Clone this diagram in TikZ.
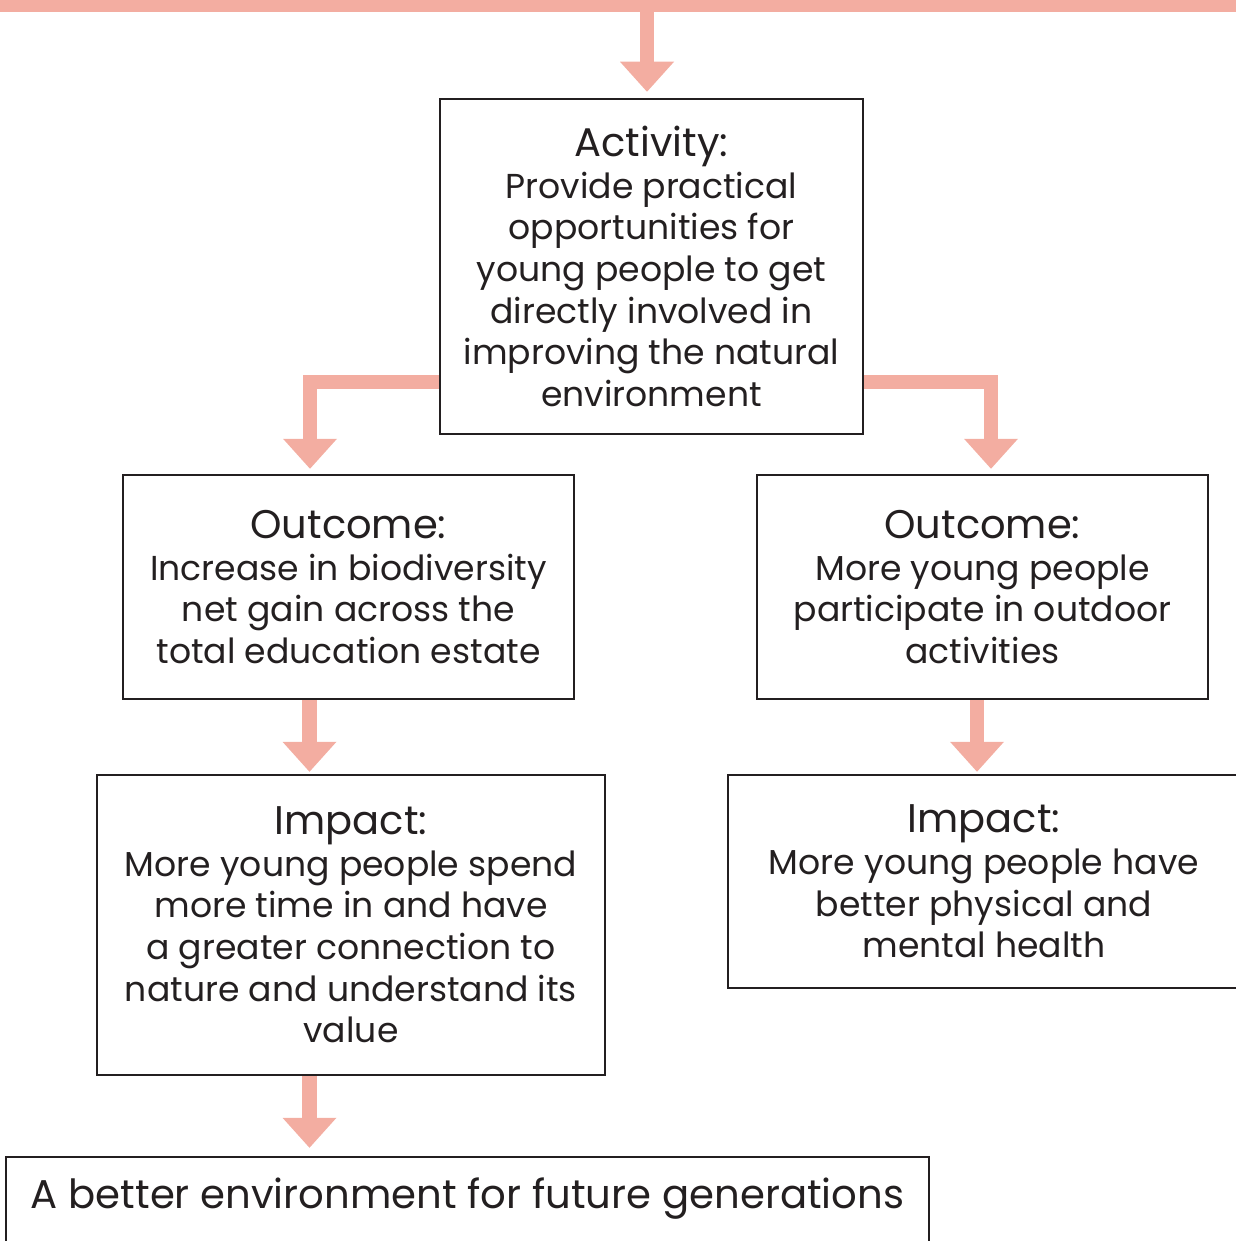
\documentclass[tikz,border=0pt]{standalone}
\usepackage{fontspec}
\setmainfont{Poppins}
\usetikzlibrary{arrows.meta,calc}

\definecolor{flowpink}{RGB}{243,173,161}
\definecolor{inkgrey}{RGB}{35,31,32}
\newcommand{\boxhead}{\fontsize{40}{44}\selectfont}
\newcommand{\boxbody}{\fontsize{34.6}{41.6}\selectfont}
\newcommand{\goalfont}{\fontsize{40.2}{44}\selectfont}

\begin{document}
\begin{tikzpicture}[x=1pt,y=-1pt,
	stage/.style={draw=inkgrey, line width=2.5pt, align=center, inner sep=0pt,
		text=inkgrey, font=\boxbody},
	flow/.style={draw=flowpink, line width=14.5pt,
		-{Triangle[width=54pt,length=30pt,line width=0pt]}}]

	% Frame
	\useasboundingbox (0,0) rectangle (1235,1241);

	% Bar along the top
	\fill[flowpink] (-5,-5) rectangle (1240,12);

	% Guide points
	\coordinate (tx) at (647,12);
	\coordinate (lj) at (310,382);
	\coordinate (rj) at (991,382);
	\coordinate (lx) at (309.5,0);
	\coordinate (rx) at (977,0);

	% Boxes
	\node[stage, minimum width=423pt, minimum height=335pt] (act) at (651.5,266.5)
		{{\boxhead Activity:}\\ Provide practical\\ opportunities for\\ young people to get\\
		 directly involved in\\ improving the natural\\ environment};
	\node[stage, minimum width=451pt, minimum height=224pt] (out1) at (348.5,587)
		{{\boxhead Outcome:}\\ Increase in biodiversity\\ net gain across the\\ total education estate};
	\node[stage, minimum width=451pt, minimum height=224pt] (out2) at (982.5,587)
		{{\boxhead Outcome:}\\ More young people\\ participate in outdoor\\ activities};
	\node[stage, minimum width=508pt, minimum height=300pt] (imp1) at (351,925)
		{{\boxhead Impact:}\\ More young people spend\\ more time in and have\\ a greater connection to\\
		 nature and understand its\\ value};
	\node[stage, minimum width=512pt, minimum height=213pt] (imp2) at (984,881.5)
		{{\boxhead Impact:}\\ More young people have\\ better physical and\\ mental health};
	\node[stage, anchor=base, minimum width=923pt, text height=51pt, text depth=60pt,
		font=\goalfont] (goal) at (467.5,1208)
		{A better environment for future generations};

	% Arrows
	\draw[flow, shorten >=6pt] (tx) -- (act.north -| tx);
	\draw[flow, shorten >=5pt] (act.west |- lj) -| (out1.north -| lj);
	\draw[flow, shorten >=5pt] (act.east |- rj) -| (out2.north -| rj);
	\draw[flow, shorten >=2pt] (out1.south -| lx) -- (imp1.north -| lx);
	\draw[flow, shorten >=2pt] (out2.south -| rx) -- (imp2.north -| rx);
	\draw[flow, shorten >=8pt] (imp1.south -| lx) -- (goal.north -| lx);
\end{tikzpicture}
\end{document}
